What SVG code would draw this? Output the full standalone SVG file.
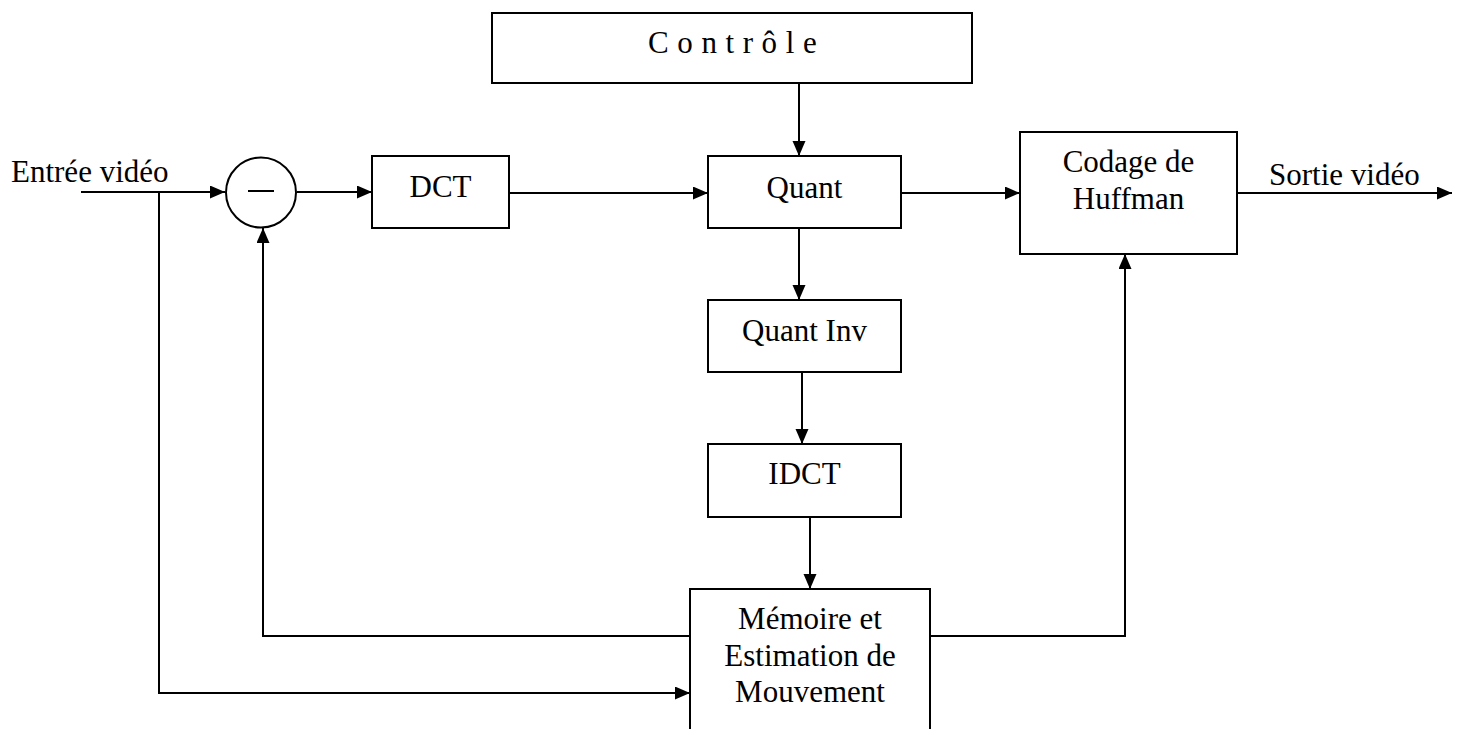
<svg xmlns="http://www.w3.org/2000/svg" width="1458" height="729" viewBox="0 0 1458 729">
  <defs>
    <style>
      .box { fill: #fff; stroke: #000; stroke-width: 2; }
      .wire { fill: none; stroke: #000; stroke-width: 2; }
      .lbl { font-family: "Liberation Serif", "Times New Roman", serif; font-size: 31px; fill: #000; }
      .mid { text-anchor: middle; }
    </style>
    <marker id="arrow" markerUnits="userSpaceOnUse" markerWidth="16" markerHeight="14" refX="15" refY="6.5" orient="auto">
      <path d="M0,0 L15,6.5 L0,13 z" fill="#000"/>
    </marker>
  </defs>
  <rect width="1458" height="729" fill="#fff"/>

  <!-- connectors -->
  <g id="connectors">
    <!-- input to subtractor -->
    <line class="wire" x1="81" y1="192" x2="225" y2="192" marker-end="url(#arrow)"/>
    <!-- subtractor to DCT -->
    <line class="wire" x1="297" y1="192" x2="372" y2="192" marker-end="url(#arrow)"/>
    <!-- DCT to Quant -->
    <line class="wire" x1="509" y1="193" x2="708" y2="193" marker-end="url(#arrow)"/>
    <!-- Quant to Huffman -->
    <line class="wire" x1="901" y1="193" x2="1020" y2="193" marker-end="url(#arrow)"/>
    <!-- Huffman output -->
    <line class="wire" x1="1237" y1="193" x2="1452" y2="193" marker-end="url(#arrow)"/>
    <!-- control to Quant -->
    <line class="wire" x1="799" y1="83" x2="799" y2="156" marker-end="url(#arrow)"/>
    <!-- Quant to Quant Inv -->
    <line class="wire" x1="799" y1="228" x2="799" y2="300" marker-end="url(#arrow)"/>
    <!-- Quant Inv to IDCT -->
    <line class="wire" x1="802" y1="372" x2="802" y2="444" marker-end="url(#arrow)"/>
    <!-- IDCT to memory -->
    <line class="wire" x1="810" y1="517" x2="810" y2="589" marker-end="url(#arrow)"/>
    <!-- prediction feedback to subtractor -->
    <polyline class="wire" points="690,636 263,636 263,228" marker-end="url(#arrow)"/>
    <!-- motion vectors to Huffman -->
    <polyline class="wire" points="930,636 1125,636 1125,254" marker-end="url(#arrow)"/>
    <!-- input branch to motion estimation -->
    <polyline class="wire" points="159,192 159,693 690,693" marker-end="url(#arrow)"/>
  </g>

  <!-- free labels -->
  <text class="lbl" x="11" y="182">Entrée vidéo</text>
  <text class="lbl" x="1269" y="185">Sortie vidéo</text>

  <g id="controle">
    <rect class="box" x="492" y="13" width="480" height="70"/>
    <text class="lbl" x="648" y="53" letter-spacing="8.6">Contrôle</text>
  </g>

  <g id="soustracteur">
    <circle class="box" cx="261" cy="192.5" r="35"/>
    <line class="wire" x1="248" y1="191" x2="274" y2="191"/>
  </g>

  <g id="dct">
    <rect class="box" x="372" y="156" width="137" height="72"/>
    <text class="lbl mid" x="440.5" y="197">DCT</text>
  </g>

  <g id="quant">
    <rect class="box" x="708" y="156" width="193" height="72"/>
    <text class="lbl mid" x="804.5" y="198">Quant</text>
  </g>

  <g id="huffman">
    <rect class="box" x="1020" y="132" width="217" height="122"/>
    <text class="lbl mid" x="1128.5" y="172">Codage de</text>
    <text class="lbl mid" x="1128.5" y="209">Huffman</text>
  </g>

  <g id="quant-inv">
    <rect class="box" x="708" y="300" width="193" height="72"/>
    <text class="lbl mid" x="804.5" y="341">Quant Inv</text>
  </g>

  <g id="idct">
    <rect class="box" x="708" y="444" width="193" height="73"/>
    <text class="lbl mid" x="804.5" y="484">IDCT</text>
  </g>

  <g id="memoire">
    <rect class="box" x="690" y="589" width="240" height="150"/>
    <text class="lbl mid" x="810" y="629">Mémoire et</text>
    <text class="lbl mid" x="810" y="666">Estimation de</text>
    <text class="lbl mid" x="810" y="702">Mouvement</text>
  </g>
</svg>
